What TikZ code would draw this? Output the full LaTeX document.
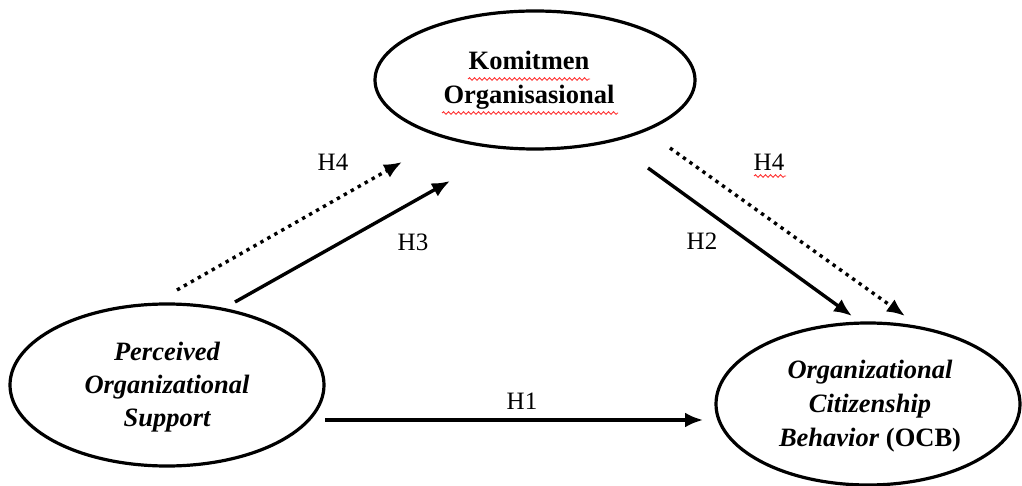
\documentclass[tikz,border=0pt]{standalone}
\usepackage{fontspec}
\setmainfont{Liberation Serif}
\usetikzlibrary{arrows.meta,decorations.pathmorphing,shapes.geometric}
\tikzset{
  construct/.style={draw, line width=3.2pt, ellipse, inner sep=0pt},
  ctext/.style={align=center, font=\fontsize{26.5}{34}\selectfont\bfseries},
  solidarrow/.style={line width=3.4pt, -{Latex[length=18pt,width=15pt]}},
  dotarrow/.style={line width=3.4pt, dash pattern=on 3.4pt off 4.6pt, -{Latex[length=18pt,width=15pt]}},
  hlabel/.style={font=\fontsize{25}{28}\selectfont},
  squig/.style={red!80, line width=0.9pt, decorate, decoration={snake, segment length=5pt, amplitude=1.3pt}}
}
\begin{document}
\begin{tikzpicture}[x=1pt,y=-1pt]
\useasboundingbox (0,0) rectangle (1022,486);
% ellipses
\node[construct, minimum width=320pt, minimum height=138pt] (KO) at (535,80) {};
\node[construct, minimum width=314pt, minimum height=162pt] (POS) at (167,385) {};
\node[construct, minimum width=304pt, minimum height=162pt] (OCB) at (868,404) {};
% texts
\node[ctext] (KOt) at (529,80) {Komitmen\\Organisasional};
\node[ctext, font=\fontsize{26.5}{33}\selectfont\bfseries\itshape] (POSt) at (167,387) {Perceived\\Organizational\\Support};
\node[ctext] (OCBt) at (870,406) {\textit{Organizational}\\\textit{Citizenship}\\\textit{Behavior} (OCB)};
% squiggles
\coordinate (s1a) at (468,79); \coordinate (s1b) at (590,79);
\coordinate (s2a) at (442,113); \coordinate (s2b) at (618,113);
\coordinate (s3a) at (754,176); \coordinate (s3b) at (786,176);
\draw[squig] (s1a) -- (s1b);
\draw[squig] (s2a) -- (s2b);
\draw[squig] (s3a) -- (s3b);
% arrow endpoints
\coordinate (h4a) at (177,290); \coordinate (h4b) at (402,162);
\coordinate (h3a) at (235,302); \coordinate (h3b) at (450,181);
\coordinate (h2a) at (648,168); \coordinate (h2b) at (852,316);
\coordinate (h4c) at (670,148); \coordinate (h4d) at (905,316);
\coordinate (h1a) at (325,420); \coordinate (h1b) at (703,420);
\draw[dotarrow] (h4a) -- (h4b);
\draw[solidarrow] (h3a) -- (h3b);
\draw[solidarrow] (h2a) -- (h2b);
\draw[dotarrow] (h4c) -- (h4d);
\draw[solidarrow] (h1a) -- (h1b);
% labels
\node[hlabel] (L4a) at (333,162) {H4};
\node[hlabel] (L3) at (413,242) {H3};
\node[hlabel] (L2) at (702,241) {H2};
\node[hlabel] (L4b) at (769,162) {H4};
\node[hlabel] (L1) at (522,401) {H1};
\end{tikzpicture}
\end{document}
